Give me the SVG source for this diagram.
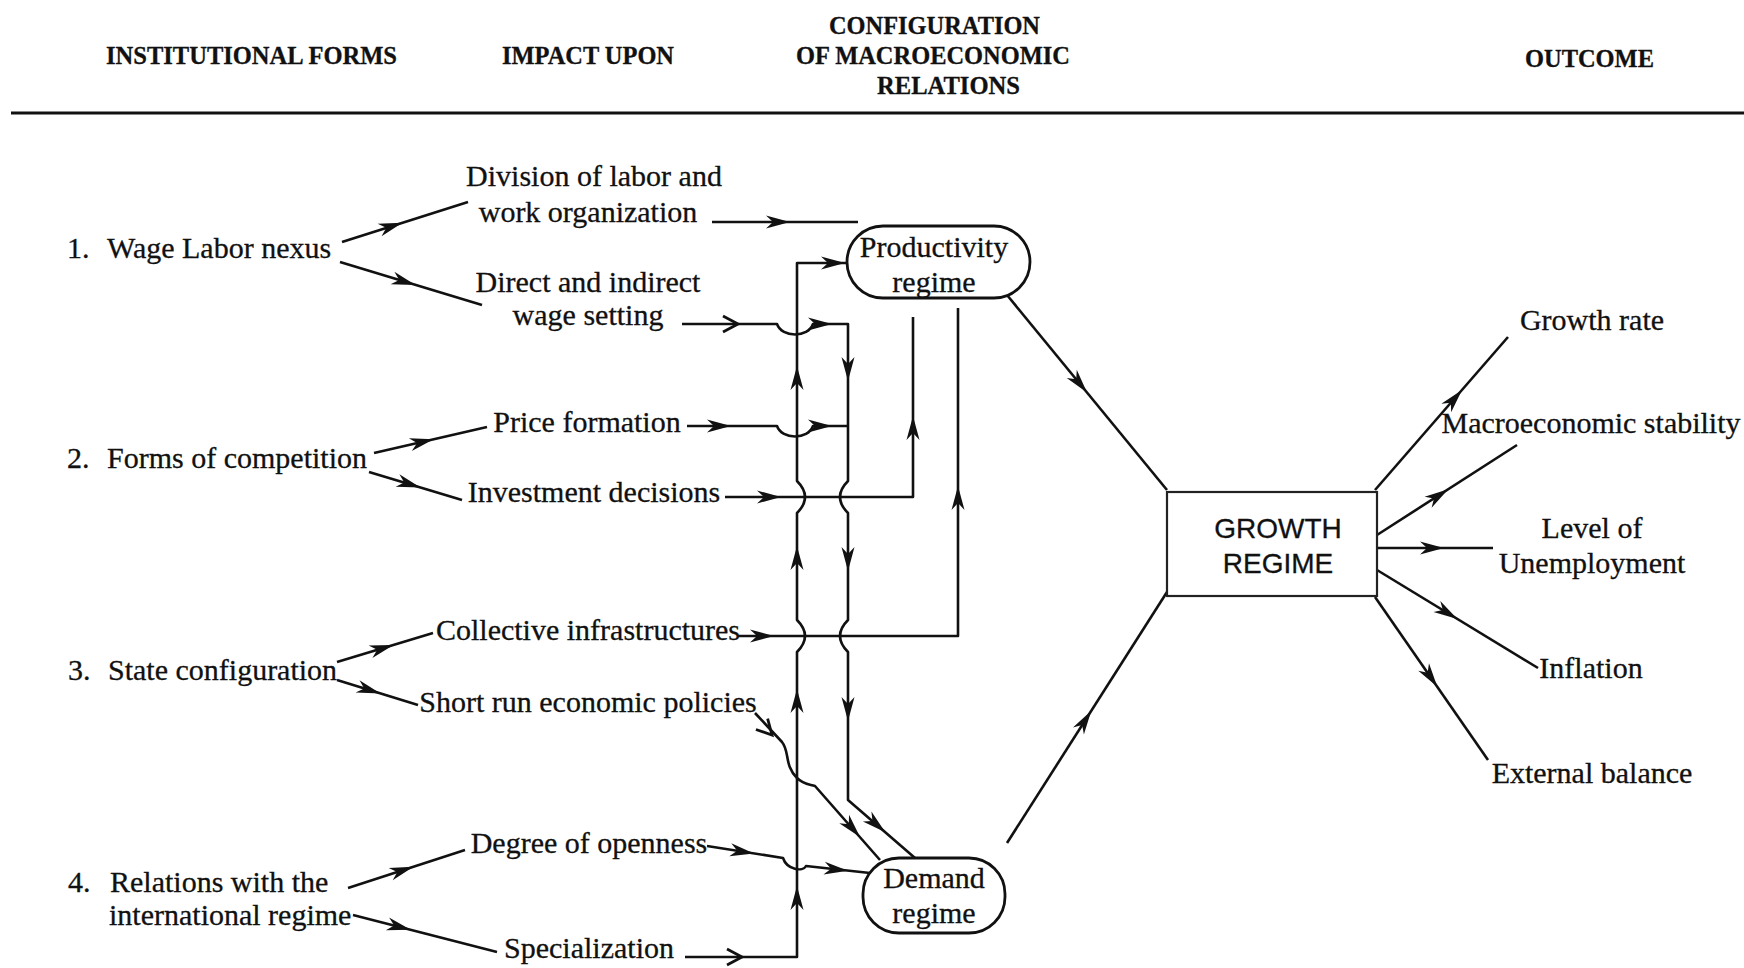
<svg xmlns="http://www.w3.org/2000/svg" xmlns:xlink="http://www.w3.org/1999/xlink" width="1744" height="968" viewBox="0 0 1744 968">
<style>
text{font-family:"Liberation Serif","Times New Roman",serif;font-size:30px;fill:#111;stroke:#111;stroke-width:0.3}
.h{font-weight:bold;font-size:25px}
.m{text-anchor:middle}
.sans{font-family:"Liberation Sans",Arial,sans-serif;font-size:28px}
.ln{fill:none;stroke:#111;stroke-width:2.6;stroke-linejoin:round}
.box{fill:#fff;stroke:#111;stroke-width:2.8}
.gbox{fill:#fff;stroke:#222;stroke-width:2.2}
</style>
<defs>
<path id="ah" d="M0,0 L-24,-6.5 L-17,0 L-24,6.5 Z" fill="#111"/>
<path id="ao" d="M-15,-8 L0,0 L-15,8" fill="none" stroke="#111" stroke-width="2.8"/>
</defs>
<rect width="1744" height="968" fill="#fff"/>

<g id="header">
<text class="h" x="106" y="64" textLength="291" lengthAdjust="spacingAndGlyphs">INSTITUTIONAL FORMS</text>
<text class="h" x="502" y="64" textLength="172" lengthAdjust="spacingAndGlyphs">IMPACT UPON</text>
<text class="h" x="829" y="34" textLength="211" lengthAdjust="spacingAndGlyphs">CONFIGURATION</text>
<text class="h" x="796" y="64" textLength="274" lengthAdjust="spacingAndGlyphs">OF MACROECONOMIC</text>
<text class="h" x="877" y="94" textLength="143" lengthAdjust="spacingAndGlyphs">RELATIONS</text>
<text class="h" x="1525" y="67" textLength="129" lengthAdjust="spacingAndGlyphs">OUTCOME</text>
<line x1="11" y1="113" x2="1744" y2="113" stroke="#111" stroke-width="3"/>
</g>

<g id="connectors">
<line class="ln" x1="342" y1="242" x2="468" y2="202"/>
<line class="ln" x1="340" y1="262" x2="482" y2="305"/>
<line class="ln" x1="374" y1="453" x2="487" y2="427"/>
<line class="ln" x1="369" y1="472" x2="462" y2="500"/>
<line class="ln" x1="337" y1="662" x2="433" y2="633"/>
<line class="ln" x1="337" y1="680" x2="418" y2="705"/>
<line class="ln" x1="348" y1="888" x2="465" y2="850"/>
<line class="ln" x1="353" y1="915" x2="497" y2="952"/>
<use xlink:href="#ah" transform="translate(402.5,222.7) rotate(-17.6)"/>
<use xlink:href="#ah" transform="translate(415.5,284.9) rotate(16.8)"/>
<use xlink:href="#ah" transform="translate(433.7,439.2) rotate(-13)"/>
<use xlink:href="#ah" transform="translate(420.5,487.5) rotate(16.8)"/>
<use xlink:href="#ah" transform="translate(393.5,644.9) rotate(-16.8)"/>
<use xlink:href="#ah" transform="translate(380.5,693.5) rotate(17.2)"/>
<use xlink:href="#ah" transform="translate(413.5,866.7) rotate(-18)"/>
<use xlink:href="#ah" transform="translate(410.7,929.8) rotate(14.4)"/>

<line class="ln" x1="712" y1="222" x2="858" y2="222"/>
<use xlink:href="#ah" transform="translate(790,222)"/>

<path class="ln" d="M685,957 L797,957 L797,652 Q813,636 797,620 L797,513 Q813,497 797,481 L797,263 L847,263"/>
<use xlink:href="#ao" transform="translate(742,957)"/>
<use xlink:href="#ah" transform="translate(797,886) rotate(-90)"/>
<use xlink:href="#ah" transform="translate(797,689) rotate(-90)"/>
<use xlink:href="#ah" transform="translate(797,546) rotate(-90)"/>
<use xlink:href="#ah" transform="translate(797,366) rotate(-90)"/>
<use xlink:href="#ah" transform="translate(845,263)"/>

<path class="ln" d="M682,324 L777,324 C782,338 808,338 813,324 L848,324 L848,481 Q832,497 848,513 L848,620 Q832,636 848,652 L848,800 L915,858"/>
<use xlink:href="#ao" transform="translate(738,324)"/>
<use xlink:href="#ah" transform="translate(832,324)"/>
<use xlink:href="#ah" transform="translate(848,381) rotate(90)"/>
<use xlink:href="#ah" transform="translate(848,571) rotate(90)"/>
<use xlink:href="#ah" transform="translate(848,721) rotate(90)"/>
<use xlink:href="#ah" transform="translate(885.3,832.2) rotate(40.9)"/>

<path class="ln" d="M687,426 L777,426 C782,440 808,440 813,426 L848,426"/>
<use xlink:href="#ah" transform="translate(731,426)"/>
<use xlink:href="#ah" transform="translate(832,426)"/>

<path class="ln" d="M725,497 L913,497 L913,317"/>
<use xlink:href="#ah" transform="translate(781,497)"/>
<use xlink:href="#ah" transform="translate(913,416) rotate(-90)"/>

<path class="ln" d="M738,636 L958,636 L958,308"/>
<use xlink:href="#ah" transform="translate(774,636)"/>
<use xlink:href="#ah" transform="translate(958,486) rotate(-90)"/>

<path class="ln" d="M755,713 L782,742 C790,752 784,765 797,778 C803,784 808,784 815,786 L880,860"/>
<use xlink:href="#ao" transform="translate(772,735) rotate(47)"/>
<use xlink:href="#ah" transform="translate(860,837) rotate(48.7)"/>

<path class="ln" d="M707,846 L783,858 C787,870 803,872 806,866 L870,873"/>
<use xlink:href="#ah" transform="translate(754,853.5) rotate(9)"/>
<use xlink:href="#ah" transform="translate(848,870.7) rotate(6.2)"/>

<line class="ln" x1="1007" y1="295" x2="1167" y2="490"/>
<use xlink:href="#ah" transform="translate(1087,392.5) rotate(50.6)"/>
<line class="ln" x1="1007" y1="843" x2="1167" y2="592"/>
<use xlink:href="#ah" transform="translate(1091.3,710.7) rotate(-57.5)"/>

<line class="ln" x1="1375" y1="490" x2="1508" y2="337"/>
<use xlink:href="#ah" transform="translate(1462,389.9) rotate(-49)"/>
<line class="ln" x1="1377" y1="535" x2="1517" y2="445"/>
<use xlink:href="#ah" transform="translate(1448.3,489.2) rotate(-32.7)"/>
<line class="ln" x1="1377" y1="548" x2="1493" y2="548"/>
<use xlink:href="#ah" transform="translate(1444,548)"/>
<line class="ln" x1="1377" y1="570" x2="1538" y2="668"/>
<use xlink:href="#ah" transform="translate(1457.4,618.9) rotate(31.3)"/>
<line class="ln" x1="1375" y1="597" x2="1488" y2="760"/>
<use xlink:href="#ah" transform="translate(1437.3,686.8) rotate(55.3)"/>
</g>

<g id="form-wage-labor"><text x="67" y="258">1.</text><text x="107" y="258">Wage Labor nexus</text></g>
<g id="form-competition"><text x="67" y="468">2.</text><text x="107" y="468">Forms of competition</text></g>
<g id="form-state"><text x="68" y="680">3.</text><text x="108" y="680">State configuration</text></g>
<g id="form-international"><text x="68" y="892">4.</text><text x="110" y="892">Relations with the</text><text x="109" y="925">international regime</text></g>

<g id="impact-division"><text class="m" x="594" y="186">Division of labor and</text><text class="m" x="588" y="222">work organization</text></g>
<g id="impact-wage"><text class="m" x="588" y="292">Direct and indirect</text><text class="m" x="588" y="325">wage setting</text></g>
<g id="impact-price"><text class="m" x="587" y="432">Price formation</text></g>
<g id="impact-investment"><text class="m" x="594" y="502">Investment decisions</text></g>
<g id="impact-collective"><text class="m" x="588" y="640">Collective infrastructures</text></g>
<g id="impact-shortrun"><text class="m" x="588" y="712">Short run economic policies</text></g>
<g id="impact-openness"><text class="m" x="589" y="853">Degree of openness</text></g>
<g id="impact-specialization"><text class="m" x="589" y="958">Specialization</text></g>

<g id="productivity-regime">
<rect class="box" x="847" y="226" width="183" height="72" rx="36"/>
<text class="m" x="934" y="257">Productivity</text><text class="m" x="934" y="292">regime</text>
</g>
<g id="demand-regime">
<rect class="box" x="863" y="858" width="142" height="75" rx="36"/>
<text class="m" x="934" y="888">Demand</text><text class="m" x="934" y="923">regime</text>
</g>
<g id="growth-regime">
<rect class="gbox" x="1167" y="492" width="210" height="104"/>
<text class="m sans" x="1278" y="538">GROWTH</text><text class="m sans" x="1278" y="573">REGIME</text>
</g>

<g id="out-growth-rate"><text class="m" x="1592" y="330">Growth rate</text></g>
<g id="out-stability"><text class="m" x="1591" y="433">Macroeconomic stability</text></g>
<g id="out-unemployment"><text class="m" x="1592" y="538">Level of</text><text class="m" x="1592" y="573">Unemployment</text></g>
<g id="out-inflation"><text class="m" x="1591" y="678">Inflation</text></g>
<g id="out-external"><text class="m" x="1592" y="783">External balance</text></g>
</svg>
